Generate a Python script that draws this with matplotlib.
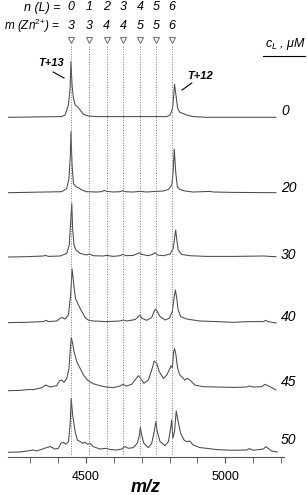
import numpy as np
import matplotlib
matplotlib.use('Agg')
import matplotlib.pyplot as plt

plt.rcParams['font.family'] = 'Liberation Sans'
plt.rcParams['mathtext.fontset'] = 'custom'
plt.rcParams['mathtext.rm'] = 'Liberation Sans'
plt.rcParams['mathtext.it'] = 'Liberation Sans:italic'
plt.rcParams['mathtext.bf'] = 'Liberation Sans:bold'

# ligand concentrations (uM), one spectrum each
conc = ['0', '20', '30', '40', '45', '50']

# expected peak positions of the complexes
n_L = [0, 1, 2, 3, 4, 5, 6]
m_Zn = [3, 3, 4, 4, 5, 5, 6]
mz_marks = [4446, 4512, 4574, 4634, 4694, 4751, 4808]

# spectra: m/z and intensity (a.u.)
mz0 = [4221, 4413, 4425, 4437, 4443, 4446, 4450, 4455, 4461, 4469, 4479, 4491, 4508, 4538,
       4790, 4802, 4811, 4815, 4818, 4823, 4829, 4837, 4847, 4861, 4885, 4933, 5182]
I0 = [0, 0.7, 2.3, 12.3, 29, 55.7, 32, 19, 12.3, 10.7, 7.3, 3, 1.3, 0.7,
      0.7, 2.3, 9, 22.3, 33, 22.3, 9, 5, 4, 2.3, 0.7, 0, 0]

mz20 = [4221, 4413, 4431, 4439, 4444, 4446, 4450, 4455, 4464, 4473, 4485, 4502, 4538, 4556,
        4566, 4574, 4598, 4622, 4632, 4640, 4670, 4694, 4718, 4748, 4778, 4796, 4808, 4813,
        4817, 4822, 4828, 4837, 4855, 4885, 4945, 4957, 5029, 5182]
I20 = [0, 1, 4.3, 14.3, 37.7, 61, 27.7, 9.3, 6, 5, 2.7, 1, 0.7, 1,
       2.3, 1.3, 0.7, 1, 2, 1, 0.7, 1.3, 0.7, 1.3, 1.7, 3.3, 7.7, 21,
       43.7, 21, 6, 3.3, 1.7, 0.7, 1.3, 0.7, 0.3, 0]

mz30 = [4221, 4287, 4311, 4347, 4355, 4365, 4407, 4431, 4440, 4445, 4449, 4452, 4457, 4464,
        4479, 4502, 4512, 4526, 4562, 4574, 4598, 4622, 4632, 4644, 4670, 4684, 4692, 4700,
        4724, 4739, 4748, 4756, 4778, 4802, 4813, 4818, 4822, 4827, 4831, 4843, 4873, 4933,
        5029, 5137, 5182]
I30 = [-0.3, 0, 0.3, 0.7, 1.3, 0.3, 0.7, 3.3, 11.7, 35, 53.3, 28.3, 11.7, 6.7,
       3.3, 1.7, 2.7, 1, 0.7, 1.3, 0.3, 1, 2.3, 1, 1.3, 3, 4, 2.3,
       1, 2.3, 4, 1.7, 1, 2.7, 8.3, 18.3, 26.7, 15, 6.7, 2.3, 1, 0.3,
       0.3, 0.7, 0]

mz40 = [4221, 4287, 4347, 4357, 4365, 4395, 4407, 4415, 4425, 4437, 4445, 4450, 4455, 4462,
        4473, 4485, 4497, 4508, 4526, 4574, 4622, 4634, 4646, 4676, 4688, 4694, 4701, 4718,
        4736, 4745, 4751, 4756, 4766, 4784, 4799, 4810, 4816, 4821, 4826, 4831, 4840, 4861,
        4909, 4969, 5029, 5083, 5137, 5145, 5154, 5182]
I40 = [-0.3, 0, 0.7, 2, 0.7, 1.3, 4, 4.7, 3.3, 7.3, 27.3, 53.3, 40.7, 24,
       17.3, 10.7, 4.7, 2.3, 1.3, 0.7, 1.3, 2.3, 1.3, 2.7, 5.7, 7.3, 4, 2,
       4.7, 11.3, 13.3, 10.7, 5.7, 2.3, 4, 10.7, 24, 32.3, 24, 12.3, 5.7, 3.3,
       1.3, 0.7, 0, 0.7, 0.7, 2, 0.7, -0.7]

mz45 = [4221, 4263, 4299, 4311, 4341, 4355, 4371, 4395, 4404, 4413, 4421, 4431, 4439, 4444,
        4447, 4452, 4457, 4467, 4479, 4491, 4505, 4514, 4526, 4550, 4574, 4598, 4622, 4632,
        4644, 4664, 4676, 4688, 4696, 4708, 4724, 4736, 4745, 4754, 4763, 4778, 4790, 4802,
        4805, 4810, 4815, 4818, 4823, 4829, 4837, 4847, 4855, 4864, 4873, 4891, 4921, 4969,
        5029, 5077, 5086, 5101, 5131, 5142, 5148, 5166, 5182]
I45 = [0, 0.3, 1.3, 1, 3, 5.7, 3.7, 5, 9.7, 10.7, 8.3, 12.3, 22.3, 42.3,
       53, 47.3, 39, 29, 22.3, 15.7, 10.7, 9, 7, 5, 3.7, 3, 4.7, 6.3,
       4.7, 6.3, 10.7, 15, 12.3, 7.3, 10.7, 20.7, 29.7, 27.3, 19, 12.3, 15.7, 22.3,
       25, 23, 39, 42.3, 35.7, 22.3, 15.7, 13, 10.7, 12.3, 10.7, 5.7, 4, 3.7,
       3.3, 3.7, 4.7, 3.7, 4, 6.3, 5.7, 3.3, 0.7]

mz50 = [4221, 4263, 4299, 4311, 4323, 4359, 4371, 4389, 4401, 4410, 4419, 4427, 4437, 4443,
        4447, 4452, 4461, 4469, 4479, 4488, 4497, 4505, 4514, 4526, 4550, 4574, 4586, 4610,
        4628, 4640, 4652, 4670, 4684, 4692, 4695, 4700, 4708, 4724, 4736, 4745, 4751, 4756,
        4766, 4784, 4796, 4804, 4808, 4812, 4818, 4824, 4831, 4840, 4852, 4861, 4873, 4885,
        4909, 4933, 4969, 5029, 5077, 5086, 5101, 5137, 5146, 5154, 5166, 5187]
I50 = [0, 0.3, 1.7, 2.3, 1.3, 4.7, 5.7, 3.3, 4, 9, 10, 8, 10.7, 27.3,
       54, 37.3, 20.7, 12.3, 10.7, 9, 10, 8, 9, 5.7, 3.3, 4, 2.7, 2.3,
       3.3, 5.7, 4, 4.7, 9, 17.3, 25, 17.3, 9, 4.7, 9, 20.7, 30.7, 20.7,
       10.7, 6.7, 10.7, 24, 32.3, 14, 20.7, 41.3, 30.7, 19, 12.3, 10.7, 11.3, 7.3,
       4.7, 4, 2.7, 2, 2.3, 3.7, 2, 3.3, 5.7, 4, 1.3, 0.3]

spectra = [(mz0, I0), (mz20, I20), (mz30, I30), (mz40, I40), (mz45, I45), (mz50, I50)]

# vertical stacking of the traces
offsets = [339.7, 264.3, 200.3, 134.7, 66.3, 4.7]
label_dy = [6.3, 4.7, 1.7, 5.6, 9, 12.3]

col = '#4a4a4a'

fig = plt.figure(figsize=(3.07, 4.95), dpi=100)
ax = fig.add_axes([8/307, 38/495, 276/307, 457/495])
ax.set_xlim(4220, 5211)
ax.set_ylim(0, 457)

for (mz, inten), off, lab, dy in zip(spectra, offsets, conc, label_dy):
    ax.plot(mz, np.array(inten) + off, color=col, lw=0.75)
    ax.text(5200, off + dy, lab, fontsize=10, style='italic', ha='left', va='center',
            clip_on=False)

# dotted guide lines with markers
for x, n, m in zip(mz_marks, n_L, m_Zn):
    ax.plot([x, x], [3, 412], ls=(0, (1, 1.6)), color='#777777', lw=0.7)
    ax.plot(x, 417, marker='v', ms=5, mfc='white', mec='#777777', mew=0.8)
    ax.text(x, 449.5, str(n), fontsize=9, style='italic', ha='center', va='center')
    ax.text(x, 431, str(m), fontsize=9, style='italic', ha='center', va='center')

ax.text(4407, 449.5, 'n (L) =', fontsize=9, style='italic', ha='right', va='center')
ax.text(4407, 431, r'm (Zn$^{\mathit{2{+}}}$) =', fontsize=8.5, style='italic', ha='right',
        va='center')

# peak labels
ax.text(4376, 394.5, 'T+13', fontsize=8, style='italic', weight='bold', ha='center',
        va='center')
ax.plot([4382, 4421], [385, 379], color='k', lw=0.8)
ax.text(4909, 381, 'T+12', fontsize=8, style='italic', weight='bold', ha='center',
        va='center')
ax.plot([4845, 4880], [367, 374], color='k', lw=0.8)

# concentration header
ax.text(5142, 413, r'$c_L$ , $\mu$M', fontsize=9, style='italic', ha='left', va='center',
        clip_on=False)
ax.plot([5135, 5286], [401, 401], color='k', lw=0.8, clip_on=False)

for s in ['top', 'left', 'right']:
    ax.spines[s].set_visible(False)
ax.spines['bottom'].set_color('#555555')
ax.set_yticks([])
ax.set_xticks([4500, 5000])
ax.set_xticks(np.arange(4300, 5201, 100), minor=True)
ax.tick_params(axis='x', which='both', direction='out', length=4, color='#555555',
               labelsize=9, pad=6)
ax.set_xlabel('m/z', fontsize=13, style='italic', weight='bold', labelpad=-3)

fig.savefig('out.png', dpi=100)
